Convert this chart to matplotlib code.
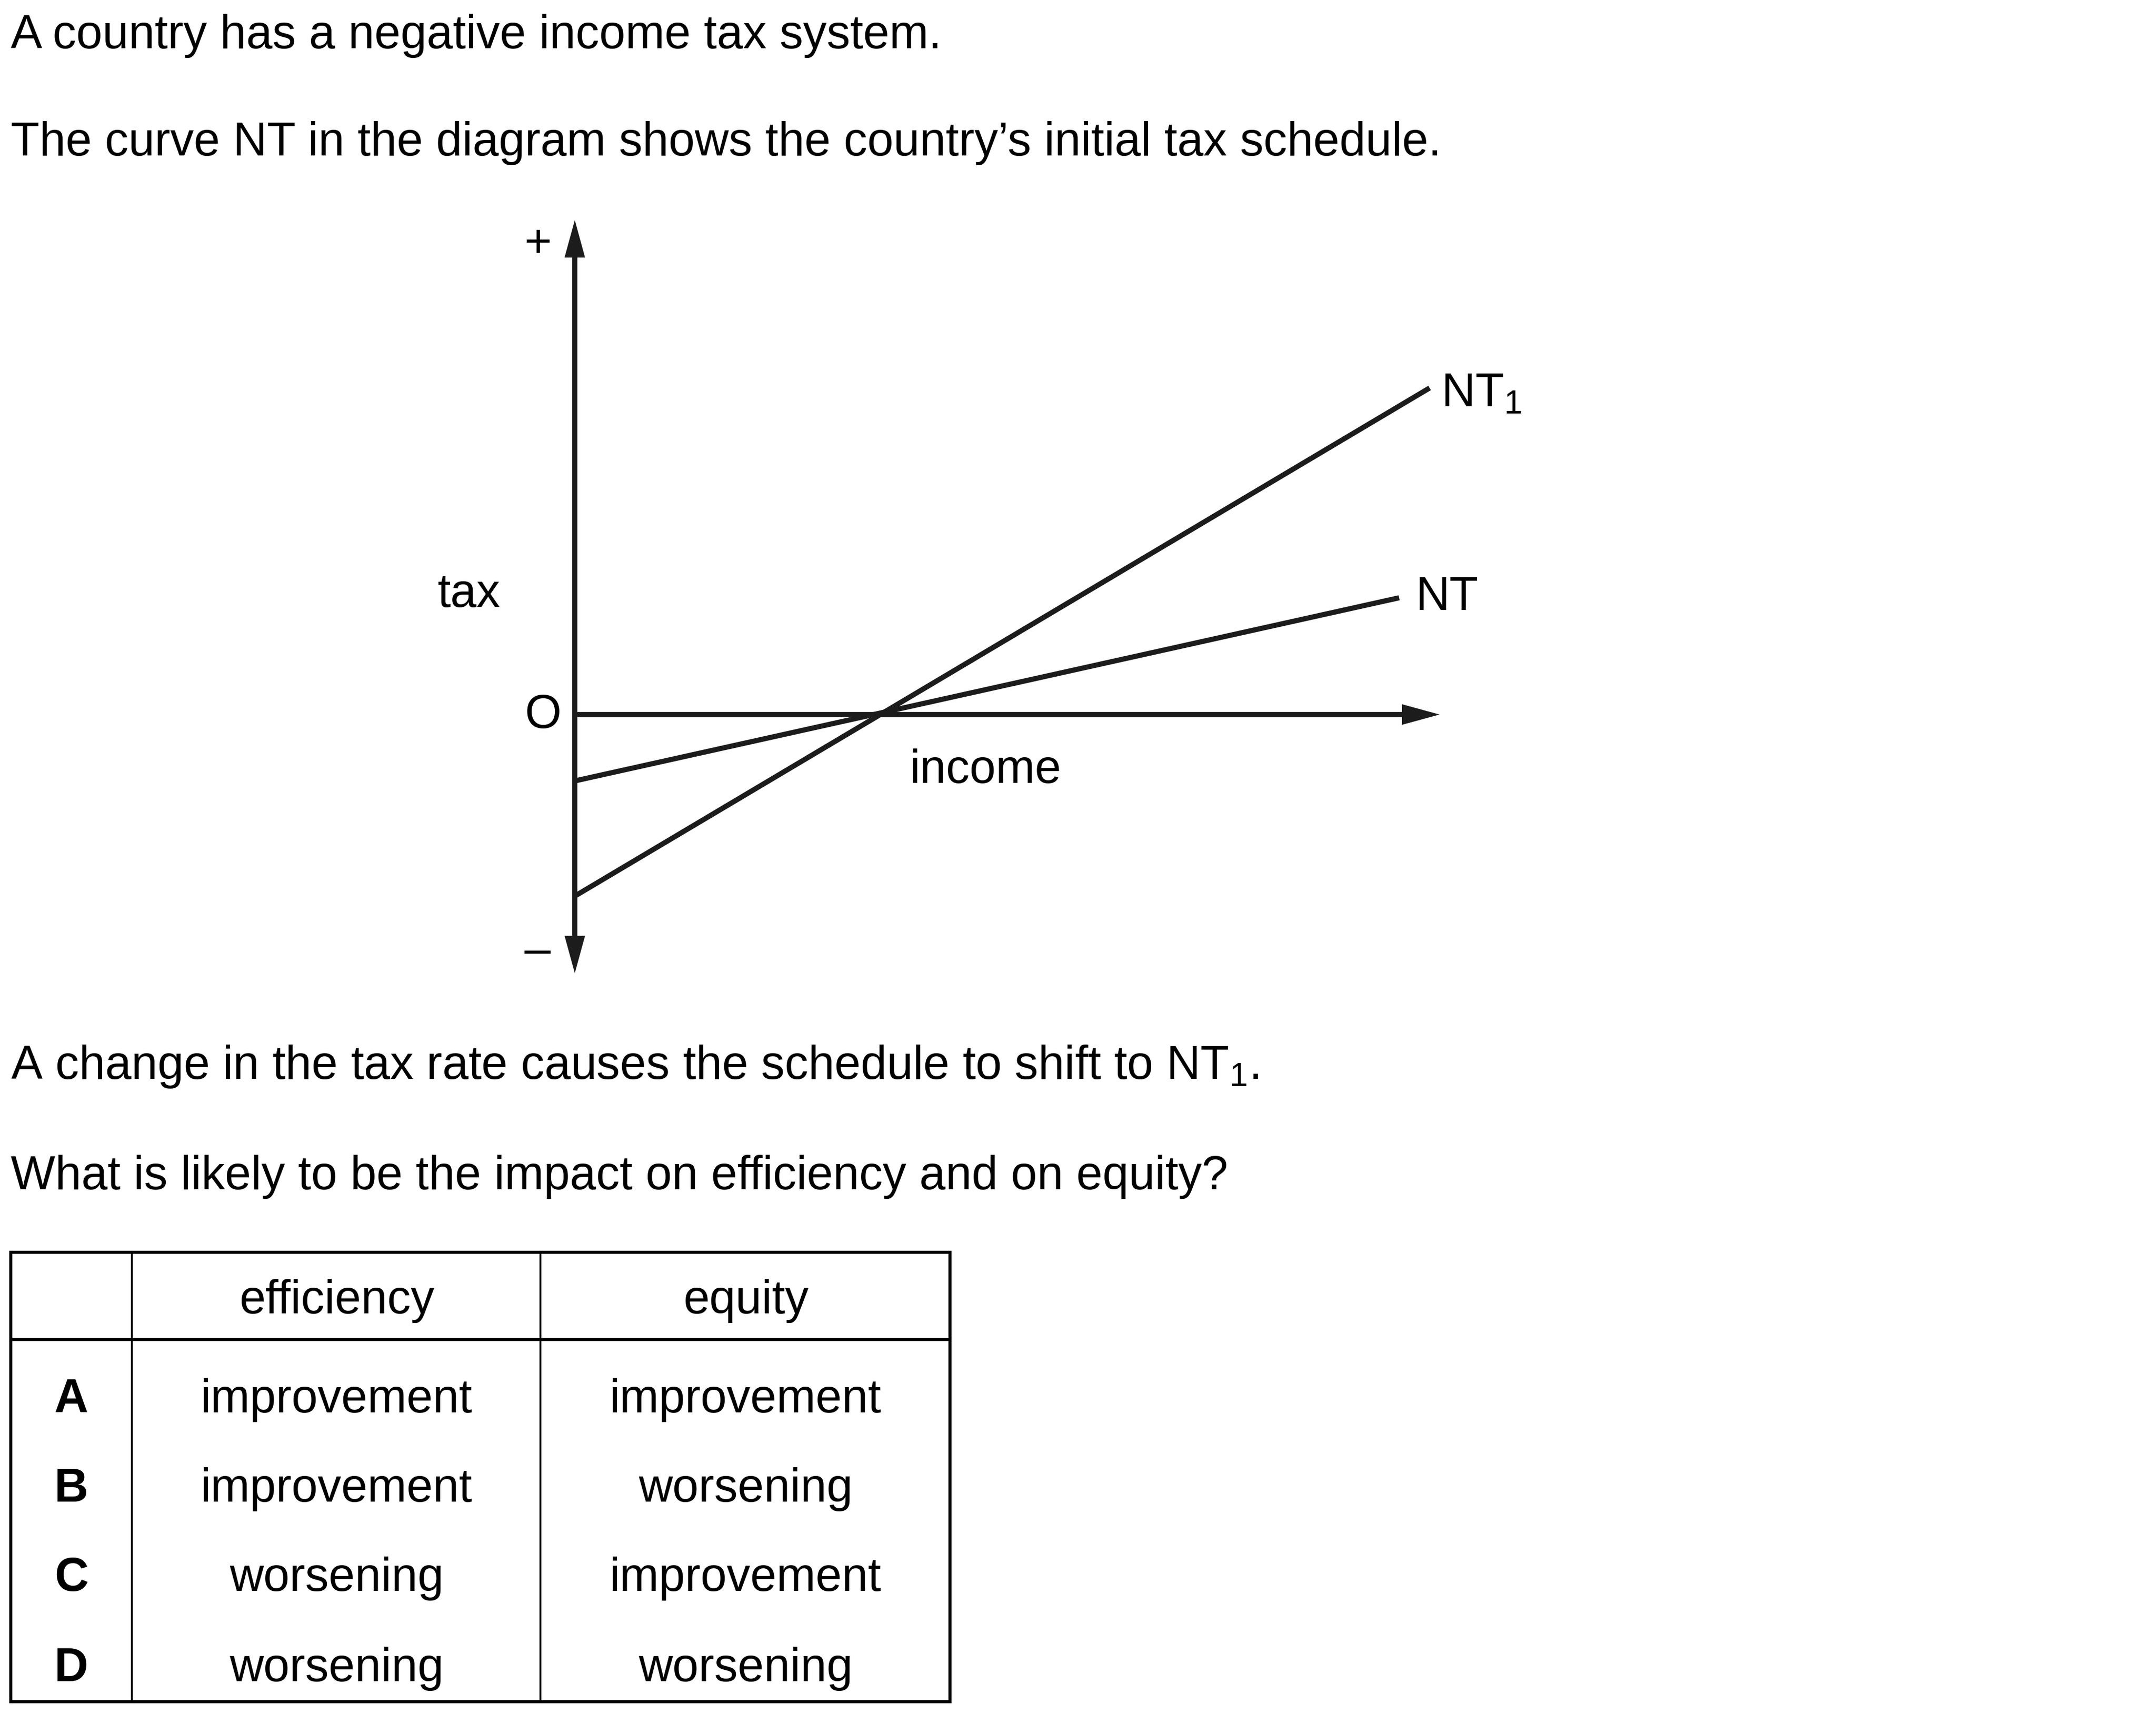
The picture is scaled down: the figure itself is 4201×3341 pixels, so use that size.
import matplotlib
matplotlib.use("Agg")
import matplotlib.pyplot as plt

plt.rcParams['font.family'] = ['Liberation Sans', 'DejaVu Sans']
plt.rcParams['mathtext.fontset'] = 'custom'
plt.rcParams['mathtext.rm'] = 'Liberation Sans'
plt.rcParams['mathtext.it'] = 'Liberation Sans:italic'
plt.rcParams['mathtext.bf'] = 'Liberation Sans:bold'

# ---------------- content ----------------
intro_lines = ["A country has a negative income tax system.",
               "The curve NT in the diagram shows the country\u2019s initial tax schedule."]
question_lines = [r"A change in the tax rate causes the schedule to shift to NT$_{\mathregular{1}}$.",
                  "What is likely to be the impact on efficiency and on equity?"]

# diagram data (arbitrary units: income on x, tax on y)
nt_income = [0.0, 10.8]
nt_tax = [-0.87, 1.53]
nt1_income = [0.0, 11.2]
nt1_tax = [-2.38, 4.28]
income_max = 11.33
tax_max = 6.48
tax_min = -3.39
curve_labels = ["NT", r"NT$_{\mathregular{1}}$"]

table_header = ["", "efficiency", "equity"]
option_letters = ["A", "B", "C", "D"]
efficiency_col = ["improvement", "improvement", "worsening", "worsening"]
equity_col = ["improvement", "worsening", "improvement", "worsening"]

# ---------------- layout ----------------
W, H = 4201, 3341
DPI = 300
FS = 22
INK = '#1c1c1c'

fig = plt.figure(figsize=(W / DPI, H / DPI), dpi=DPI)
fig.patch.set_facecolor('white')


def ftext(x, y, s, **kw):
    kw.setdefault('fontsize', FS)
    kw.setdefault('color', 'black')
    return fig.text(x / W, 1 - y / H, s, **kw)


ftext(21, 94, intro_lines[0], ha='left', va='baseline')
ftext(21, 303, intro_lines[1], ha='left', va='baseline')
ftext(21, 2103, question_lines[0], ha='left', va='baseline')
ftext(21, 2318, question_lines[1], ha='left', va='baseline')

# ---------------- diagram ----------------
ox, x_tip = 1120, 2805
y_top, y_bot = 429, 1897
ax = fig.add_axes([ox / W, 1 - y_bot / H, (x_tip - ox) / W, (y_bot - y_top) / H])
ax.set_xlim(0, income_max)
ax.set_ylim(tax_min, tax_max)
ax.axis('off')

px = income_max / (x_tip - ox)          # data units per pixel (equal on both axes)
shaft_w = 10 * px
head_w = 40 * px
head_l = 73 * px
arrow_kw = dict(width=shaft_w, head_width=head_w, head_length=head_l,
                length_includes_head=True, color=INK, lw=0, clip_on=False)
ax.arrow(0, 0, 0, tax_max, **arrow_kw)
ax.arrow(0, 0, 0, tax_min, **arrow_kw)
ax.arrow(-shaft_w / 2, 0, income_max + shaft_w / 2, 0, **arrow_kw)

LW = 2.4
ax.plot(nt_income, nt_tax, color=INK, lw=LW, solid_capstyle='butt')
ax.plot(nt1_income, nt1_tax, color=INK, lw=LW, solid_capstyle='butt')

ax.annotate(curve_labels[0], xy=(nt_income[-1], nt_tax[-1]), xytext=(32, 0),
            textcoords='offset pixels', ha='left', va='center', fontsize=FS,
            annotation_clip=False)
ax.annotate(curve_labels[1], xy=(nt1_income[-1], nt1_tax[-1]), xytext=(22, -12),
            textcoords='offset pixels', ha='left', va='center', fontsize=FS,
            annotation_clip=False)

ftext(1048, 477, '+', ha='center', va='center')
ftext(1048, 1855, '\u2013', ha='center', va='center')
ftext(914, 1159, 'tax', ha='center', va='center')
ftext(1058, 1395, 'O', ha='center', va='center')
ftext(1921, 1502, 'income', ha='center', va='center')

# ---------------- table ----------------
tl, tr, tt, tb = 21, 1851, 2441, 3317
tab = fig.add_axes([tl / W, 1 - tb / H, (tr - tl) / W, (tb - tt) / H])
tab.set_xlim(tl, tr)
tab.set_ylim(tb, tt)
tab.axis('off')

col_edges = [257, 1053]
header_line = 2611
col_centers = [139, 656, 1453]
header_baseline = 2560
row_baselines = [2753, 2927, 3101, 3277]

OUT = 1.45
INN = 0.85
tab.plot([tl, tr, tr, tl, tl], [tt, tt, tb, tb, tt], color='black', lw=OUT,
         solid_joinstyle='miter', clip_on=False)
tab.plot([tl, tr], [header_line, header_line], color='black', lw=OUT, clip_on=False)
for cx in col_edges:
    tab.plot([cx, cx], [tt, tb], color='black', lw=INN, clip_on=False)

for j, h in enumerate(table_header):
    tab.text(col_centers[j], header_baseline, h, ha='center', va='baseline', fontsize=FS)
for i, letter in enumerate(option_letters):
    y = row_baselines[i]
    tab.text(col_centers[0], y, letter, ha='center', va='baseline', fontsize=FS,
             fontweight='bold')
    tab.text(col_centers[1], y, efficiency_col[i], ha='center', va='baseline', fontsize=FS)
    tab.text(col_centers[2], y, equity_col[i], ha='center', va='baseline', fontsize=FS)

fig.savefig('out.png', dpi=DPI, facecolor='white')
